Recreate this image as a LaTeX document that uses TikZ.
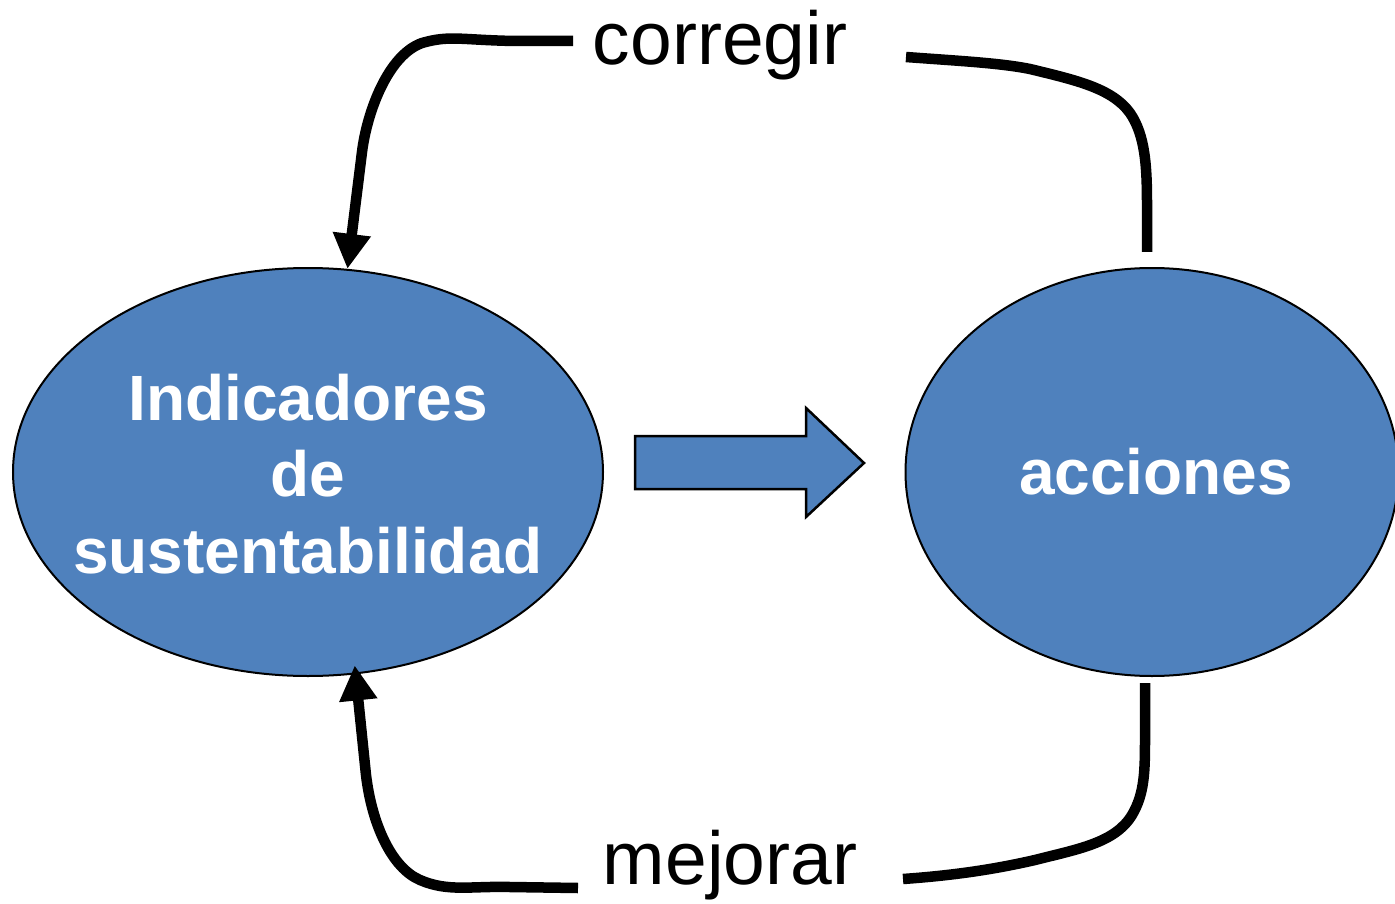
\documentclass[tikz,border=0pt]{standalone}
\usepackage{fontspec}
\setmainfont{Liberation Sans}
\usetikzlibrary{arrows.meta,shapes.geometric,calc}
\definecolor{fillblue}{RGB}{79,129,189}
\begin{document}
\begin{tikzpicture}[x=1pt,y=-1pt,
  blob/.style={ellipse,draw=black,line width=2pt,fill=fillblue,inner sep=0pt},
  conn/.style={line width=10.5pt},
  arrowend/.style={-{Triangle[length=35pt,width=36pt]}},
  lbl/.style={font=\fontsize{75}{90}\selectfont,inner sep=0pt,anchor=base},
  intxt/.style={font=\bfseries\fontsize{64}{76.5}\selectfont,text=white,align=center,inner sep=0pt}]
\useasboundingbox (0,0) rectangle (1395,904);
\node[blob,minimum width=590pt,minimum height=408pt] (ind) at (308,472) {};
\node[blob,minimum width=493pt,minimum height=408pt] (acc) at (1152,472) {};
\node[intxt] (indtxt) at (308,474) {Indicadores\\de\\sustentabilidad};
\node[intxt,anchor=base] (acctxt) at (1156,494) {acciones};
\node[lbl] (corr) at (720,65) {corregir};
\node[lbl] (mej) at (730,884) {mejorar};
\draw[line width=2.5pt,fill=fillblue,line join=miter] (635,436) -- (806,436) -- (806,408) -- (864,463) -- (806,517) -- (806,489) -- (635,489) -- cycle;
\coordinate (c1) at (573,41);
\coordinate (c2) at (906,57);
\coordinate (c3) at (1147,252);
\coordinate (m1) at (578,888);
\coordinate (m2) at (903,879);
\coordinate (m3) at (1145,683);
\draw[conn,arrowend] (c1) -- (515,41) .. controls (460,40) and (450,35) .. (422,43) .. controls (388,55) and (367,112) .. (362,152) -- (ind.79.4);
\draw[conn] (c2) .. controls (960,61) and (1000,63) .. (1030,69) .. controls (1075,80) and (1112,88) .. (1130,113) .. controls (1145,135) and (1147,165) .. (1147,205) -- (c3);
\draw[conn,arrowend] (m1) -- (510,887) .. controls (470,886) and (448,892) .. (420,880) .. controls (392,868) and (372,825) .. (366,775) -- ([yshift=9pt]ind.-77.7);
\draw[conn] (m2) .. controls (960,875) and (1000,868) .. (1035,860) .. controls (1078,849) and (1115,843) .. (1132,815) .. controls (1145,793) and (1145,770) .. (1145,735) -- (m3);
\end{tikzpicture}
\end{document}
